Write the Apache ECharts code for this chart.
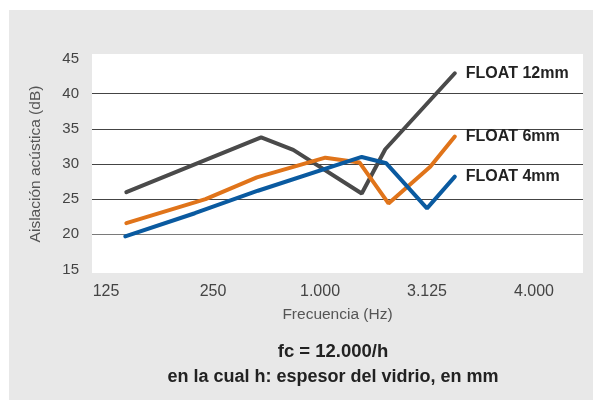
<!DOCTYPE html>
<html><head><meta charset="utf-8">
<script src="https://cdn.jsdelivr.net/npm/echarts@6/dist/echarts.min.js"></script>
<style>html,body{margin:0;padding:0;background:#fff}#c{width:593px;height:400px}</style>
</head><body><div id="c"></div>
<script>
// Tick labels of the frequency axis (placed at positions 0..4)
const freqLabels = ['125', '250', '1.000', '3.125', '4.000'];
const freqPositions = [0, 1, 2, 3, 4];
const yTicks = [15, 20, 25, 30, 35, 40, 45];

// Series: [position on frequency axis, dB]
const float12 = [[0.19, 26.0], [1.45, 33.8], [1.75, 32.0], [2.39, 25.8], [2.61, 32.1], [3.26, 42.9]];
const float6  = [[0.19, 21.6], [0.93, 25.0], [1.41, 28.1], [2.05, 30.9], [2.37, 30.2], [2.64, 24.4], [3.03, 29.6], [3.26, 33.9]];
const float4  = [[0.18, 19.7], [0.83, 23.0], [1.42, 26.2], [2.39, 31.0], [2.62, 30.1], [3.00, 23.7], [3.26, 28.2]];
const seriesNames = ['FLOAT 12mm', 'FLOAT 6mm', 'FLOAT 4mm'];

const chart = echarts.init(document.getElementById('c'), null, {renderer: 'canvas'});
const FONT = '"Liberation Sans", Arial, Helvetica, sans-serif';
function mk(name, data, color) {
  return {
    name, type: 'line', data, symbol: 'none', z: 5,
    lineStyle: {color, width: 4, cap: 'round'},
    endLabel: {show: true, formatter: '{a}', distance: 11, color: '#222', fontWeight: 'bold', fontSize: 16, fontFamily: FONT},
    emphasis: {disabled: true}
  };
}
chart.setOption({
  backgroundColor: '#fff',
  animation: false,
  graphic: [
    {type: 'rect', z: -20, silent: true, shape: {x: 9, y: 10, width: 584, height: 390}, style: {fill: '#e8e8e8'}},
    {type: 'rect', z: -10, silent: true, shape: {x: 92, y: 54, width: 491, height: 219}, style: {fill: '#fff'}},
    {type: 'text', x: 333, y: 352, silent: true, style: {text: 'fc = 12.000/h', align: 'center', verticalAlign: 'middle', font: 'bold 18.5px ' + FONT, fill: '#222'}},
    {type: 'text', x: 333, y: 377, silent: true, style: {text: 'en la cual h: espesor del vidrio, en mm', align: 'center', verticalAlign: 'middle', font: 'bold 18px ' + FONT, fill: '#222'}}
  ],
  grid: {left: 92, right: 10, top: 58.5, bottom: 130.5, containLabel: false},
  xAxis: {
    type: 'value', min: -0.131, max: 4.458,
    name: 'Frecuencia (Hz)', nameLocation: 'middle', nameGap: 37,
    nameTextStyle: {color: '#555', fontSize: 15.5, fontFamily: FONT},
    axisLine: {show: false}, axisTick: {show: false}, splitLine: {show: false},
    axisLabel: {
      customValues: freqPositions, margin: 14, color: '#444', fontSize: 16, fontFamily: FONT,
      formatter: v => freqLabels[Math.round(v)]
    }
  },
  yAxis: {
    type: 'value', min: yTicks[0], max: yTicks[yTicks.length - 1], interval: 5,
    name: 'Aislación acústica (dB)', nameLocation: 'middle', nameGap: 48,
    nameTextStyle: {color: '#555', fontSize: 15.5, fontFamily: FONT},
    axisLine: {show: false}, axisTick: {show: false},
    axisLabel: {margin: 13, color: '#444', fontSize: 15, fontFamily: FONT},
    splitLine: {show: true, lineStyle: {width: 1, color: ['rgba(0,0,0,0)', '#7a7a7a', '#444', '#444', '#444', '#444', 'rgba(0,0,0,0)']}}
  },
  series: [
    mk(seriesNames[0], float12, '#4a4a4a'),
    mk(seriesNames[1], float6, '#e0741a'),
    mk(seriesNames[2], float4, '#0a5aa0')
  ]
});
</script></body></html>
